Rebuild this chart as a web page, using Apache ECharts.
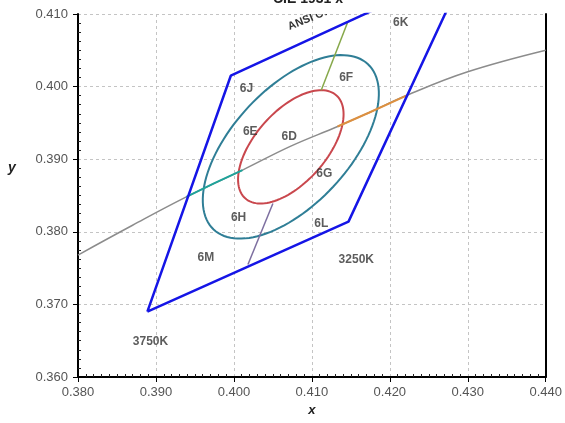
<!DOCTYPE html>
<html>
<head>
<meta charset="utf-8">
<script src="https://cdn.jsdelivr.net/npm/echarts@6/dist/echarts.min.js"></script>
<style>
html,body{margin:0;padding:0;background:#fff;}
#main{width:565px;height:423px;}
</style>
</head>
<body>
<div id="main"></div>
<script>
/*axis ticks*/
var xTicks = [0.380, 0.390, 0.400, 0.410, 0.420, 0.430, 0.440];
var yTicks = [0.360, 0.370, 0.380, 0.390, 0.400, 0.410];

/*ANSI bin boundary (blue)*/
var binBoundary = [
    [0.3889, 0.3690], [0.3996, 0.4015], [0.4146, 0.4089],
    [0.4299, 0.4165], [0.4147, 0.3814], [0.3889, 0.3690]
];

/*planckian locus (gray) and its coloured parts*/
var planckLocus = [
    [0.3800, 0.3768], [0.3870, 0.3809], [0.3939, 0.3848], [0.4011, 0.3885],
    [0.4073, 0.3918], [0.4133, 0.3945], [0.4173, 0.3964], [0.4222, 0.3988],
    [0.4299, 0.4020], [0.4400, 0.4050]
];
var locusCool = [[0.3939, 0.3848], [0.3975, 0.3867], [0.4011, 0.3885]];
var locusWarm = [[0.4133, 0.3945], [0.4173, 0.3964], [0.4222, 0.3988]];

/*ellipses: centre, then semi-major, semi-minor, tilt (deg)*/
var ellipseCenter = [0.4073, 0.3917];
var ellipseInner = [0.0092, 0.0047, 52];
var ellipseOuter = [0.0151, 0.0077, 50.5];

/*lines from the inner ellipse to the boundary*/
var lineUp = [[0.4112, 0.3995], [0.4146, 0.4089]];
var lineDown = [[0.4050, 0.3839], [0.4018, 0.3755]];

/*bin labels*/
var binNames = ['6K', '6F', '6J', '6E', '6D', '6G', '6H', '6L', '6M', '3250K', '3750K'];
var binX = [0.4214, 0.4144, 0.4016, 0.4021, 0.4071, 0.4116, 0.4006, 0.4112, 0.3964, 0.4157, 0.3893];
var binY = [0.4088, 0.4012, 0.3997, 0.3938, 0.3931, 0.3880, 0.3820, 0.3811, 0.3765, 0.3761, 0.3649];

var ansiText = 'ANSI C78.377';
var ansiPos = [0.4070, 0.4082];
var ansiAngle = 22;

var myChart = echarts.init(document.getElementById('main'));

var labelData = [];
binNames.forEach(function (name, i) {
    labelData.push({name: name, value: [binX[i], binY[i]]});
});

function lineSeries(data, color, width, smooth) {
    return {
        type: 'line',
        data: data,
        showSymbol: false,
        symbol: 'none',
        smooth: smooth ? 0.4 : false,
        clip: true,
        silent: true,
        lineStyle: {color: color, width: width},
        z: 3
    };
}

/*ellipse drawn through the axes*/
function ellipseSeries(p, color) {
    return {
        type: 'custom',
        data: [[ellipseCenter[0], ellipseCenter[1], p[0], p[1], p[2]]],
        clip: true,
        silent: true,
        z: 3,
        renderItem: function (params, api) {
            var cx = api.value(0), cy = api.value(1);
            var a = api.value(2), b = api.value(3), t = api.value(4) * Math.PI / 180;
            var pts = [];
            for (var k = 0; k < 120; k++) {
                var s = k / 120 * 2 * Math.PI;
                var dx = a * Math.cos(s), dy = b * Math.sin(s);
                pts.push(api.coord([
                    cx + dx * Math.cos(t) - dy * Math.sin(t),
                    cy + dx * Math.sin(t) + dy * Math.cos(t)
                ]));
            }
            return {
                type: 'polygon',
                shape: {points: pts},
                style: {fill: 'none', stroke: color, lineWidth: 2}
            };
        }
    };
}

/*extra axis, only for the small inner ticks*/
var minorAxis = function (ticks, split, pos) {
    return {
        type: 'value',
        position: pos,
        min: ticks[0],
        max: ticks[ticks.length - 1],
        interval: 0.01,
        axisLine: {show: false},
        axisTick: {show: false, inside: true},
        minorTick: {show: true, splitNumber: split, length: 3, lineStyle: {color: '#222', width: 1}},
        axisLabel: {show: false},
        splitLine: {show: false}
    };
};

var options = {
    animation: false,
    backgroundColor: '#fff',
    title: {
        text: 'CIE 1931 x',
        left: 268,
        top: -13,
        textStyle: {fontSize: 14, fontWeight: 'bold', color: '#222', fontFamily: 'Liberation Sans'}
    },
    grid: {left: 78, right: 18, top: 14, bottom: 46},
    xAxis: [
        {
            type: 'value',
            position: 'bottom',
            min: xTicks[0],
            max: xTicks[xTicks.length - 1],
            interval: 0.01,
            axisLine: {lineStyle: {color: '#000', width: 2}},
            axisTick: {length: 5, lineStyle: {color: '#000'}},
            axisLabel: {
                color: '#555', fontSize: 13, margin: 9, fontFamily: 'Liberation Sans',
                formatter: function (v) { return v.toFixed(3); }
            },
            splitLine: {show: true, lineStyle: {color: '#c4c4c4', type: [3, 3], width: 1}},
            name: 'x',
            nameLocation: 'middle',
            nameGap: 26,
            nameTextStyle: {fontSize: 13, fontWeight: 'bold', fontStyle: 'italic', color: '#222', fontFamily: 'Liberation Sans'}
        },
        minorAxis(xTicks, 10, 'bottom')
    ],
    yAxis: [
        {
            type: 'value',
            position: 'left',
            min: yTicks[0],
            max: yTicks[yTicks.length - 1],
            interval: 0.01,
            axisLine: {lineStyle: {color: '#000', width: 2}},
            axisTick: {length: 5, lineStyle: {color: '#000'}},
            axisLabel: {
                color: '#555', fontSize: 13, margin: 10, fontFamily: 'Liberation Sans',
                formatter: function (v) { return v.toFixed(3); }
            },
            splitLine: {show: true, lineStyle: {color: '#c4c4c4', type: [3, 3], width: 1}}
        },
        minorAxis(yTicks, 8, 'left'),
        {
            type: 'value',
            position: 'right',
            min: yTicks[0],
            max: yTicks[yTicks.length - 1],
            interval: 0.01,
            axisLine: {show: true, lineStyle: {color: '#000', width: 2}},
            axisTick: {show: false},
            axisLabel: {show: false},
            splitLine: {show: false}
        }
    ],
    graphic: [
        {
            type: 'text',
            left: 8,
            top: 161,
            style: {text: 'y', fill: '#222', font: 'italic bold 14px Liberation Sans'}
        }
    ],
    series: [
        lineSeries(planckLocus, '#8c8c8c', 1.5, true),
        lineSeries(locusCool, '#1fa39a', 2, false),
        lineSeries(locusWarm, '#dd9040', 2, false),
        ellipseSeries(ellipseOuter, '#2f7e96'),
        ellipseSeries(ellipseInner, '#c9474d'),
        lineSeries(lineUp, '#86a84a', 1.5, false),
        lineSeries(lineDown, '#7d6fa0', 1.5, false),
        lineSeries(binBoundary, '#1515e6', 2.5, false),
        {
            type: 'scatter',
            data: labelData,
            symbolSize: 0,
            silent: true,
            z: 5,
            label: {
                show: true,
                position: 'inside',
                formatter: '{b}',
                fontSize: 12,
                fontWeight: 'bold',
                fontFamily: 'Liberation Sans',
                color: '#333'
            }
        },
        {
            /*rotated label, clipped by the plot like the original*/
            type: 'custom',
            data: [ansiPos],
            clip: true,
            silent: true,
            z: 5,
            renderItem: function (params, api) {
                var pt = api.coord([api.value(0), api.value(1)]);
                return {
                    type: 'text',
                    x: pt[0],
                    y: pt[1],
                    rotation: ansiAngle * Math.PI / 180,
                    style: {
                        text: ansiText,
                        fill: '#333',
                        font: 'bold 11px Liberation Sans',
                        align: 'left',
                        verticalAlign: 'middle'
                    }
                };
            }
        }
    ]
};
myChart.setOption(options);
</script>
</body>
</html>
